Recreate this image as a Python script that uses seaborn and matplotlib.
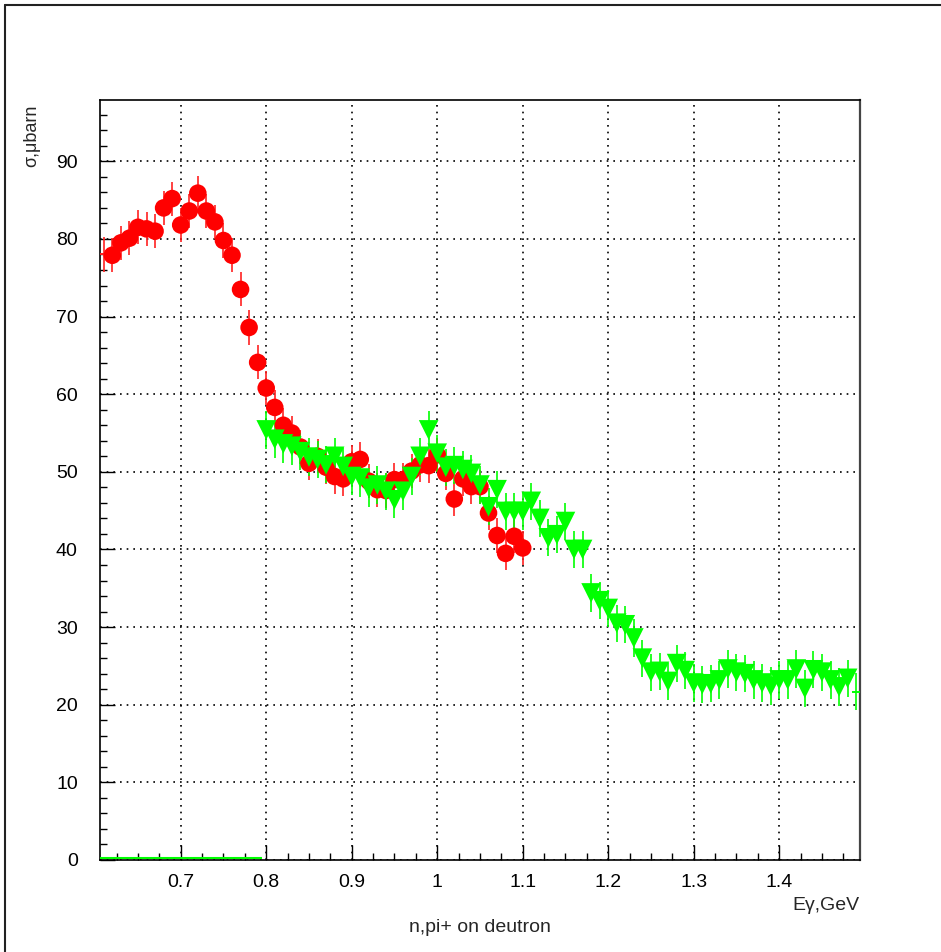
import numpy as np
import pandas as pd
import matplotlib
matplotlib.use("Agg")
import matplotlib.pyplot as plt
from matplotlib.lines import Line2D
from matplotlib.ticker import MultipleLocator
import seaborn as sns

# donnees (section efficace n,pi+ sur deuton)
red_x = [0.61, 0.62, 0.63, 0.64, 0.65, 0.66, 0.67, 0.68, 0.69, 0.70,
         0.71, 0.72, 0.73, 0.74, 0.75, 0.76, 0.77, 0.78, 0.79, 0.80,
         0.81, 0.82, 0.83, 0.84, 0.85, 0.86, 0.87, 0.88, 0.89, 0.90,
         0.91, 0.92, 0.93, 0.94, 0.95, 0.96, 0.97, 0.98, 0.99, 1.00,
         1.01, 1.02, 1.03, 1.04, 1.05, 1.06, 1.07, 1.08, 1.09, 1.10]
red_y = [78.0, 77.9, 79.5, 80.1, 81.5, 81.3, 81.0, 84.0, 85.2, 81.8,
         83.6, 85.9, 83.6, 82.2, 79.8, 77.9, 73.5, 68.6, 64.1, 60.8,
         58.3, 56.0, 55.0, 53.2, 51.1, 52.0, 50.6, 49.4, 49.1, 51.3,
         51.6, 48.8, 47.7, 47.6, 49.0, 49.0, 50.1, 50.9, 50.8, 52.2,
         49.8, 46.5, 49.1, 48.1, 48.1, 44.7, 41.8, 39.5, 41.7, 40.2]
red_err = 2.2

green_x = [0.80, 0.81, 0.82, 0.83, 0.84, 0.85, 0.86, 0.87, 0.88, 0.89,
           0.90, 0.91, 0.92, 0.93, 0.94, 0.95, 0.96, 0.97, 0.98, 0.99,
           1.00, 1.01, 1.02, 1.03, 1.04, 1.05, 1.06, 1.07, 1.08, 1.09,
           1.10, 1.11, 1.12, 1.13, 1.14, 1.15, 1.16, 1.17, 1.18, 1.19,
           1.20, 1.21, 1.22, 1.23, 1.24, 1.25, 1.26, 1.27, 1.28, 1.29,
           1.30, 1.31, 1.32, 1.33, 1.34, 1.35, 1.36, 1.37, 1.38, 1.39,
           1.40, 1.41, 1.42, 1.43, 1.44, 1.45, 1.46, 1.47, 1.48, 1.49]
green_y = [55.4, 54.2, 53.6, 53.3, 52.6, 51.9, 51.6, 50.9, 52.0, 50.7,
           49.4, 49.2, 47.9, 48.3, 47.5, 46.4, 47.5, 49.4, 52.0, 55.4,
           52.4, 50.6, 50.8, 50.3, 49.8, 48.3, 45.5, 47.7, 44.9, 44.9,
           44.9, 46.2, 44.0, 41.5, 41.9, 43.6, 40.0, 40.0, 34.4, 33.4,
           32.4, 30.5, 30.3, 28.6, 26.0, 24.2, 24.3, 23.0, 25.3, 24.4,
           22.8, 22.6, 22.7, 23.2, 24.6, 24.2, 24.0, 23.2, 22.8, 22.4,
           23.2, 23.2, 24.6, 22.1, 24.5, 24.2, 23.2, 22.3, 23.4, 21.7]
green_err = 2.4

red = pd.DataFrame({'E': red_x, 'sigma': red_y})
green = pd.DataFrame({'E': green_x, 'sigma': green_y})

sns.set_style("white")
plt.rcParams['font.family'] = ['Liberation Sans', 'DejaVu Sans']

fig = plt.figure(figsize=(9.41, 9.52), dpi=100)
ax = fig.add_axes([100/941, 92/952, 760/941, 760/952])

# barres d'erreur
ax.errorbar(red['E'], red['sigma'], yerr=red_err, fmt='none',
            ecolor='#ff2020', elinewidth=1.4, alpha=0.85, zorder=3)
ax.errorbar(green['E'], green['sigma'], yerr=green_err, fmt='none',
            ecolor='#00ff00', elinewidth=1.4, alpha=0.85, zorder=3)
# points du bord : pas de marqueur, seulement la barre horizontale
ax.errorbar(red['E'].iloc[:1], red['sigma'].iloc[:1], xerr=0.005, fmt='none',
            ecolor='#ff2020', elinewidth=1.4, zorder=3)
ax.errorbar(green['E'].iloc[-1:], green['sigma'].iloc[-1:], xerr=0.005, fmt='none',
            ecolor='#00ff00', elinewidth=1.4, zorder=3)

sns.scatterplot(data=red.iloc[1:], x='E', y='sigma', marker='o', s=160,
                color='#ff0000', edgecolor='none', linewidth=0, ax=ax, zorder=4)
sns.scatterplot(data=green.iloc[:-1], x='E', y='sigma', marker='v', s=200,
                color='#00ff00', edgecolor='none', linewidth=0, ax=ax, zorder=5)

# histogramme vert vide avant 0.8
ax.hlines(0.25, 0.6056, 0.795, color='#00ff00', lw=1.5, zorder=6, clip_on=False)

ax.set_xlim(0.6056, 1.4945)
ax.set_ylim(0, 97.9)
ax.xaxis.set_minor_locator(MultipleLocator(0.025))
ax.yaxis.set_major_locator(MultipleLocator(10))
ax.yaxis.set_minor_locator(MultipleLocator(2))
ax.set_xticks([0.7, 0.8, 0.9, 1.0, 1.1, 1.2, 1.3, 1.4])
ax.set_xticklabels(['0.7', '0.8', '0.9', '1', '1.1', '1.2', '1.3', '1.4'])
ax.tick_params(which='both', direction='in', bottom=True, left=True,
               top=False, right=False, labelsize=14, colors='black')
ax.tick_params(which='major', length=11, width=1)
ax.tick_params(which='minor', length=5, width=1)
ax.tick_params(axis='x', pad=10)
ax.tick_params(axis='y', pad=16)
ax.grid(True, which='major', color='black', linestyle=(0, (1, 3)), linewidth=1.2)
ax.set_axisbelow(True)
for s in ax.spines.values():
    s.set_color('black')
    s.set_linewidth(1.2)
ax.spines['right'].set_color('#444444')
ax.spines['right'].set_linewidth(1.6)
ax.set_xlabel('')
ax.set_ylabel('')

fig.text(32/941, 1 - 105/952, 'σ,μbarn', rotation=90, ha='center', va='top', fontsize=13)
fig.text(860/941, 1 - 905/952, 'Eγ,GeV', ha='right', va='center', fontsize=14)
fig.text(480/941, 1 - 928/952, 'n,pi+ on deutron', ha='center', va='center', fontsize=14)

# cadre du canvas
fig.add_artist(Line2D([5/941, 1], [1 - 5/952, 1 - 5/952], color='#222222', lw=1.5))
fig.add_artist(Line2D([5/941, 5/941], [0, 1 - 5/952], color='#222222', lw=1.5))

fig.savefig('out.png', dpi=100)
